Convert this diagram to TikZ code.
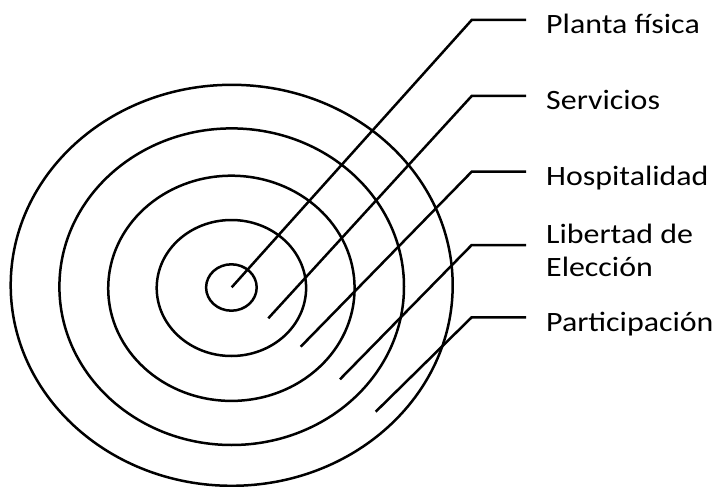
\documentclass[tikz,border=0pt]{standalone}
\usepackage{fontspec}
\setmainfont{Carlito}[FakeStretch=1.14]
\usetikzlibrary{shapes.geometric}
\begin{document}
\begin{tikzpicture}[x=1pt,y=-1pt,
  ring/.style={draw=black, line width=2.5pt, ellipse, inner sep=0pt, outer sep=0pt},
  leader/.style={draw=black, line width=2.5pt, line join=miter},
  lbl/.style={anchor=base west, inner xsep=20pt, inner ysep=0pt, font=\fontsize{28}{32.5}\selectfont, text=black}]
\useasboundingbox (0,0) rectangle (718,487);
% rings
\node[ring, minimum width=442pt, minimum height=401pt] (e5) at (231.7,285.3) {};
\node[ring, minimum width=344.6pt, minimum height=316.6pt] (e4) at (231.7,286.7) {};
\node[ring, minimum width=246.4pt, minimum height=225.2pt] (e3) at (231.4,288.3) {};
\node[ring, minimum width=149.4pt, minimum height=136pt] (e2) at (231.4,288) {};
\node[ring, minimum width=50.6pt, minimum height=46.4pt] (e1) at (231.4,287.5) {};
% labels
\node[lbl] (t1) at (526,33.5) {Planta física};
\node[lbl] (t2) at (526,110) {Servicios};
\node[lbl] (t3) at (526,185.5) {Hospitalidad};
\node[lbl] (t4) at (526,243.5) {\vtop{\baselineskip=32.5pt\hbox{Libertad de}\hbox{Elección}}};
\node[lbl] (t5) at (526,331) {Participación};
% leader start points and corners
\coordinate (s1) at (231.7,287.3);
\coordinate (s2) at (268.3,318.3);
\coordinate (s3) at (300.7,346.7);
\coordinate (s4) at (340,379.3);
\coordinate (s5) at (375.7,411.7);
\coordinate (c1) at (471.7,20);
\coordinate (c2) at (471.7,96);
\coordinate (c3) at (471.7,171.7);
\coordinate (c4) at (471.7,245);
\coordinate (c5) at (471.7,317.3);
\draw[leader] (s1) -- (c1) -- (c1 -| t1.west);
\draw[leader] (s2) -- (c2) -- (c2 -| t2.west);
\draw[leader] (s3) -- (c3) -- (c3 -| t3.west);
\draw[leader] (s4) -- (c4) -- (c4 -| t4.west);
\draw[leader] (s5) -- (c5) -- (c5 -| t5.west);
\end{tikzpicture}
\end{document}
